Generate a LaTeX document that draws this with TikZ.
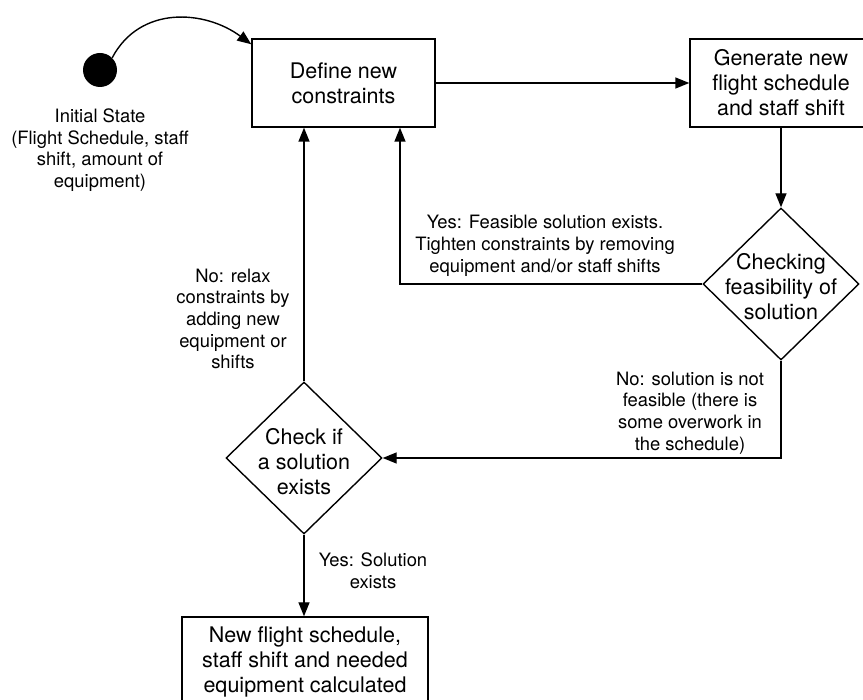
\documentclass[tikz,border=0pt]{standalone}
\usepackage{fontspec}
\setmainfont{TeX Gyre Heros}
\usetikzlibrary{shapes.geometric,arrows.meta}
\tikzset{
  box/.style={draw, line width=1.4pt, rectangle, inner sep=0pt, align=center,
    font=\fontsize{21.5}{25}\selectfont},
  dia/.style={draw, line width=1.4pt, diamond, aspect=1, inner sep=0pt,
    minimum width=156pt, minimum height=152pt},
  bigtxt/.style={align=center, inner sep=0pt, font=\fontsize{21.5}{25}\selectfont},
  lbl/.style={align=center, inner sep=0pt, font=\fontsize{18.4}{21.7}\selectfont},
  arr/.style={line width=1.4pt, -{Triangle[length=14pt,width=11pt]}},
  conn/.style={line width=1.4pt}
}
\begin{document}
\begin{tikzpicture}[x=1pt,y=-1pt]
\useasboundingbox (0,0) rectangle (863,700);
\clip (0,0) rectangle (863,700);
% start dot
\node[circle, fill=black, inner sep=0pt, minimum size=34pt] (init) at (100,70) {};
\node[lbl] (initlbl) at (100,150) {Initial State\\(Flight Schedule, staff\\shift, amount of\\equipment)};
% boxes
\node[box, minimum width=183pt, minimum height=88pt] (def) at (343.5,83) {Define new\\constraints};
\node[box, minimum width=182pt, minimum height=88pt] (gen) at (781,83) {Generate new\\flight schedule\\and staff shift};
\node[box, minimum width=246pt, minimum height=90pt] (fin) at (305,662) {New flight schedule,\\staff shift and needed\\equipment calculated};
% diamonds
\node[dia] (d1) at (781,284) {};
\node[bigtxt] (d1t) at (781,287) {Checking\\feasibility of\\solution};
\node[dia] (d2) at (304,458) {};
\node[bigtxt] (d2t) at (304,462) {Check if\\a solution\\exists};
% connectors
\coordinate (ctl1) at (140,5);
\coordinate (ctl2) at (205,10);
\draw[arr] (init.45) .. controls (ctl1) and (ctl2) .. ([yshift=-6pt]def.north west);
\draw[arr] (def.east) -- (gen.west);
\draw[arr] (gen.south) -- (d1.north);
\coordinate (yesin) at ([xshift=56.5pt]def.south);
\draw[arr] (d1.west) -| (yesin);
\draw[arr] (d1.south) |- (d2.east);
\draw[arr] (d2.north) -- (d2.north |- def.south);
\draw[arr] (d2.south) -- (d2.south |- fin.north);
% labels
\node[lbl] (yeslbl) at (545,246) {Yes: Feasible solution exists.\\Tighten constraints by removing\\equipment and/or staff shifts};
\node[lbl] (nolbl1) at (690,413) {No: solution is not\\feasible (there is\\some overwork in\\the schedule)};
\node[lbl] (nolbl2) at (233,319) {No: relax\\constraints by\\adding new\\equipment or\\shifts};
\node[lbl] (yes2lbl) at (373,571) {Yes: Solution\\exists};
\end{tikzpicture}
\end{document}
